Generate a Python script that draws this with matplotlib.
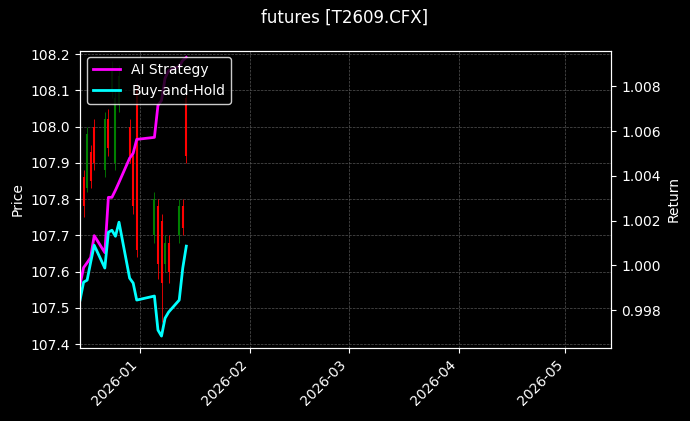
import matplotlib.pyplot as plt
import matplotlib.dates as mdates
import pandas as pd

dates = pd.to_datetime([
    "2025-12-15", "2025-12-16", "2025-12-17", "2025-12-18", "2025-12-19",
    "2025-12-22", "2025-12-23", "2025-12-24", "2025-12-25", "2025-12-26",
    "2025-12-29", "2025-12-30", "2025-12-31", "2026-01-05", "2026-01-06",
    "2026-01-07", "2026-01-08", "2026-01-09", "2026-01-12", "2026-01-13",
    "2026-01-14",
])
opens = [107.88, 107.86, 107.83, 107.93, 108.00, 107.88, 108.02, 108.10, 107.90, 108.06,
         108.00, 107.92, 108.10, 107.70, 107.78, 107.74, 107.62, 107.68, 107.70, 107.78, 108.08]
closes = [107.76, 107.78, 107.98, 107.85, 107.90, 108.02, 107.94, 108.16, 108.08, 108.14,
          107.92, 107.78, 107.66, 107.80, 107.62, 107.57, 107.68, 107.60, 107.78, 107.72, 107.92]
highs = [107.90, 107.88, 108.00, 107.95, 108.02, 108.04, 108.05, 108.18, 108.10, 108.17,
         108.02, 107.94, 108.12, 107.82, 107.80, 107.76, 107.70, 107.70, 107.80, 107.80, 108.10]
lows = [107.74, 107.75, 107.82, 107.83, 107.88, 107.86, 107.92, 108.08, 107.88, 108.04,
        107.90, 107.76, 107.64, 107.68, 107.58, 107.46, 107.60, 107.57, 107.68, 107.70, 107.90]
ai_strategy = [0.99914, 0.99990, 1.00012, 1.00035, 1.00133, 1.00057, 1.00304, 1.00304, 1.00336,
               1.00371, 1.00479, 1.00501, 1.00563, 1.00572, 1.00715, 1.00737, 1.00836, 1.00871,
               1.00889, 1.00916, 1.00929]
buy_hold = [0.99845, 0.99925, 0.99934, 1.00014, 1.00090, 0.99988, 1.00148, 1.00157, 1.00130,
            1.00193, 0.99943, 0.99921, 0.99845, 0.99863, 0.99711, 0.99684, 0.99764, 0.99791,
            0.99845, 0.99988, 1.00086]

plt.style.use('dark_background')
fig, ax = plt.subplots(figsize=(6.9, 4.21), dpi=100)
fig.patch.set_facecolor('black')
ax.set_facecolor('black')

for d, o, c, h, l in zip(dates, opens, closes, highs, lows):
    color = 'green' if c >= o else 'red'
    ax.vlines(d, l, h, color=color, linewidth=0.6)
    ax.vlines(d, min(o, c), max(o, c), color=color, linewidth=1.5)

ax.set_ylim(107.39, 108.21)
ax.set_xlim(pd.Timestamp("2025-12-15"), pd.Timestamp("2026-05-14"))
ax.set_ylabel('Price')
ax.xaxis.set_major_locator(mdates.MonthLocator())
ax.xaxis.set_major_formatter(mdates.DateFormatter('%Y-%m'))
plt.setp(ax.get_xticklabels(), rotation=45, ha='right')
ax.grid(True, linestyle='--', linewidth=0.5, color='#555555')

ax2 = ax.twinx()
ax2.plot(dates, ai_strategy, color='magenta', linewidth=2, label='AI Strategy')
ax2.plot(dates, buy_hold, color='cyan', linewidth=2, label='Buy-and-Hold')
ax2.set_ylim(0.99632, 1.00960)
ax2.set_ylabel('Return')
ax2.legend(loc='upper left', facecolor='black', edgecolor='white')

fig.suptitle('futures [T2609.CFX]')
fig.subplots_adjust(left=0.116, right=0.886, top=0.88, bottom=0.174)
fig.savefig('out.png', facecolor='black')
